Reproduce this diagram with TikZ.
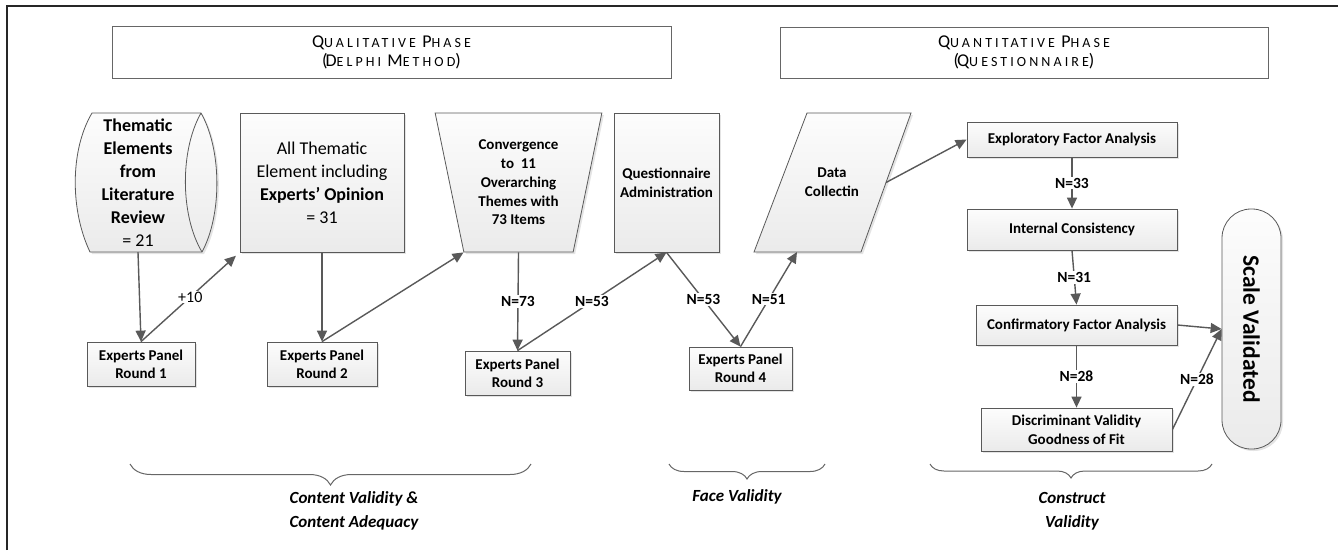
\documentclass[tikz,border=0pt]{standalone}
\usepackage{fontspec}
\setmainfont{Carlito}
\newfontfamily\phasefont[LetterSpace=22]{Carlito}
\usetikzlibrary{arrows.meta,shapes.geometric,decorations.pathreplacing,shadows}
\newcommand{\fsc}[2]{{\fontsize{18}{19}\selectfont #1}{\fontsize{14}{19}\selectfont #2}}
\tikzset{
  flowbox/.style={draw=black!65, line width=0.8pt, top color=black!1, bottom color=black!8, align=center, inner sep=2pt,
    drop shadow={shadow xshift=2pt, shadow yshift=-2pt, fill=black!30, opacity=0.35}},
  panel/.style={flowbox, font=\bfseries\fontsize{15}{18}\selectfont},
  stepbox/.style={flowbox, font=\bfseries\fontsize{15}{19}\selectfont},
  phasebox/.style={draw=black!60, line width=1pt, fill=white, align=center, font=\phasefont\fontsize{14}{19}\selectfont},
  flowarrow/.style={draw=black!65, line width=1.4pt, -{Triangle[length=11pt,width=10pt]}},
  nlabel/.style={fill=white, inner sep=1pt, font=\bfseries\fontsize{15.5}{17}\selectfont},
  phasebrace/.style={draw=black!60, line width=1pt, decorate, decoration={brace, mirror, amplitude=#1}},
  grouplabel/.style={align=center, font=\bfseries\itshape\fontsize{17}{24}\selectfont},
}
\begin{document}
\begin{tikzpicture}[x=1pt, y=-1pt]
\useasboundingbox (0,0) rectangle (1338,550);
\draw[line width=1.2pt, black!85] (7,550) -- (7,6) -- (1338,6);
\node[phasebox, minimum width=559pt, minimum height=52pt] (qual) at (391.5,52) {\fsc{Q}{UALITATIVE} \fsc{P}{HASE}\\\fsc{(\kern-2pt D}{ELPHI} \fsc{M}{ETHOD}\fsc{)}{}};
\node[phasebox, minimum width=488pt, minimum height=51pt] (quant) at (1024,52.5) {\fsc{Q}{UANTITATIVE} \fsc{P}{HASE}\\\fsc{(\kern-2pt Q}{UESTIONNAIRE}\fsc{)}{}};
\draw[flowbox] (92,113) -- (201,113) .. controls (222,150) and (222,215) .. (202,252) -- (90,252) .. controls (70,210) and (70,150) .. (92,113) -- cycle;
\draw[draw=black!65, line width=0.8pt] (201,113) .. controls (180,150) and (180,215) .. (202,252);
\node[align=center, minimum height=139pt, font=\fontsize{18}{23}\selectfont] (lit) at (138,182.5) {\textbf{Thematic}\\\textbf{Elements}\\\textbf{from}\\\textbf{Literature}\\\textbf{Review}\\= 21};
\node[flowbox, minimum width=164pt, minimum height=139pt, font=\fontsize{18}{23}\selectfont] (allel) at (322,182.5) {All Thematic\\Element including\\\textbf{Experts’ Opinion}\\= 31};
\node[flowbox, trapezium, trapezium left angle=104, trapezium right angle=104, trapezium stretches=true, minimum width=167pt, minimum height=139pt, font=\bfseries\fontsize{15}{18.7}\selectfont] (conv) at (518.5,182.5) {Convergence\\to\ \ 11\\Overarching\\Themes with\\73 Items};
\node[stepbox, minimum width=105pt, minimum height=139pt] (qadmin) at (666.5,182.5) {Questionnaire\\Administration};
\draw[flowbox] (754,252) -- (807,113) -- (911,113) -- (861,252) -- cycle;
\node[align=center, font=\bfseries\fontsize{15}{19}\selectfont] (data) at (832,182.5) {Data\\Collectin};
\coordinate (dataout) at (886,182.5);
\coordinate (datain) at (797,252);
\node[panel, minimum width=108pt, minimum height=44pt] (ep1) at (141,364) {Experts Panel\\Round 1};
\node[panel, minimum width=110pt, minimum height=44pt] (ep2) at (322,364) {Experts Panel\\Round 2};
\node[panel, minimum width=105pt, minimum height=44pt] (ep3) at (517.5,373) {Experts Panel\\Round 3};
\node[panel, minimum width=103pt, minimum height=43pt] (ep4) at (740.5,368.5) {Experts Panel\\Round 4};
\node[stepbox, minimum width=210pt, minimum height=35pt] (efa) at (1072,139.5) {Exploratory Factor Analysis};
\node[stepbox, minimum width=210pt, minimum height=41pt] (ic) at (1072,229.5) {Internal Consistency};
\node[stepbox, minimum width=201pt, minimum height=40pt] (cfa) at (1076.5,325) {Confirmatory Factor Analysis};
\node[stepbox, minimum width=191pt, minimum height=43pt] (dv) at (1076.5,429.5) {Discriminant Validity\\Goodness of Fit};
\node[flowbox, minimum width=59pt, minimum height=240pt, rounded corners=29pt] (scale) at (1251.5,329) {};
\node[rotate=-90, font=\bfseries\fontsize{23.5}{26}\selectfont] (scaletxt) at (scale.center) {Scale Validated};
\draw[flowarrow] (lit.south) -- (ep1.north);
\draw[flowarrow, shorten >=5pt] (ep1.north) -- node[nlabel, font=\fontsize{16}{17}\selectfont] {+10} (allel.south west);
\draw[flowarrow] (allel.south) -- (ep2.north);
\draw[flowarrow] (ep2.north) -- (conv.bottom left corner);
\draw[flowarrow] (conv.south) -- node[nlabel] {N=73} (ep3.north);
\draw[flowarrow] (ep3.north) -- node[nlabel] {N=53} (qadmin.south);
\draw[flowarrow] (qadmin.south) -- node[nlabel] {N=53} (ep4.north);
\draw[flowarrow] (ep4.north) -- node[nlabel] {N=51} (datain);
\draw[flowarrow] (dataout) -- (efa.west);
\draw[flowarrow] (efa.south) -- node[nlabel] {N=33} (ic.north);
\draw[flowarrow] (ic.south) -- node[nlabel] {N=31} (cfa.north);
\draw[flowarrow] (cfa.south) -- node[nlabel] {N=28} (dv.north);
\draw[flowarrow] (cfa.east) -- (scale.west);
\draw[flowarrow] (dv.east) -- node[nlabel] {N=28} (scale.west);
\draw[phasebrace=21pt] (130,464) -- (531,464);
\draw[phasebrace=15pt] (669,464) -- (825,464);
\draw[phasebrace=14pt] (930,464) -- (1212,464);
\node[grouplabel] (cvlabel) at (354,511) {Content Validity \&\\Content Adequacy};
\node[grouplabel] (fvlabel) at (737,497) {Face Validity};
\node[grouplabel] (cnlabel) at (1072,511) {Construct\\Validity};
\end{tikzpicture}
\end{document}
